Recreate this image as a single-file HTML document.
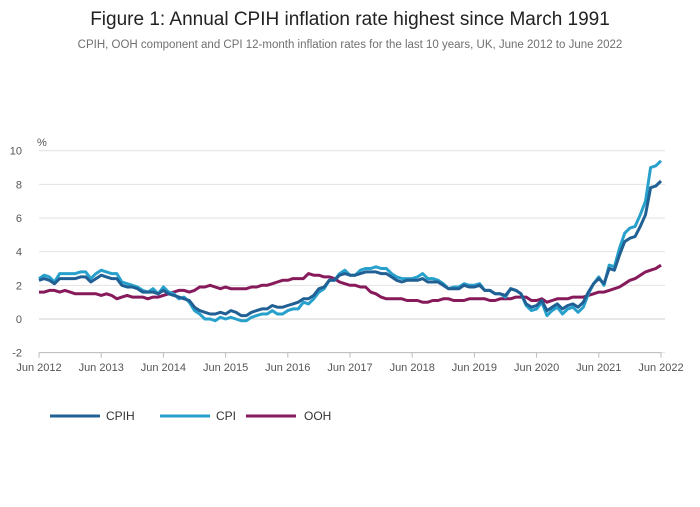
<!DOCTYPE html>
<html><head><meta charset="utf-8"><style>
body{margin:0;background:#fff;font-family:"Liberation Sans",sans-serif}
</style></head><body>
<svg width="700" height="502" xmlns="http://www.w3.org/2000/svg">
<text x="350" y="25" text-anchor="middle" font-size="19" fill="#222">Figure 1: Annual CPIH inflation rate highest since March 1991</text>
<text x="350" y="48" text-anchor="middle" font-size="11.5" fill="#707070">CPIH, OOH component and CPI 12-month inflation rates for the last 10 years, UK, June 2012 to June 2022</text>
<g id="grid"></g><g id="axes"></g><g id="series"></g>
<g font-size="12" fill="#333">
<line x1="50" y1="416" x2="100" y2="416" stroke="#206095" stroke-width="3"/>
<text x="106" y="420">CPIH</text>
<line x1="160" y1="416" x2="210" y2="416" stroke="#27a0cc" stroke-width="3"/>
<text x="216" y="420">CPI</text>
<line x1="246" y1="416" x2="296" y2="416" stroke="#871a5b" stroke-width="3"/>
<text x="304" y="420">OOH</text>
</g>
</svg>
<script>
const xLabels=["Jun 2012","Jun 2013","Jun 2014","Jun 2015","Jun 2016","Jun 2017","Jun 2018","Jun 2019","Jun 2020","Jun 2021","Jun 2022"];
const yTicks=[-2,0,2,4,6,8,10];
const cpih=[2.3,2.4,2.3,2.1,2.4,2.4,2.4,2.4,2.5,2.5,2.2,2.4,2.6,2.5,2.4,2.4,2.0,1.9,1.9,1.8,1.6,1.6,1.6,1.5,1.7,1.5,1.4,1.3,1.2,1.1,0.7,0.5,0.4,0.3,0.3,0.4,0.3,0.5,0.4,0.2,0.2,0.4,0.5,0.6,0.6,0.8,0.7,0.7,0.8,0.9,1.0,1.2,1.2,1.4,1.8,1.9,2.3,2.3,2.6,2.7,2.6,2.6,2.7,2.8,2.8,2.8,2.7,2.7,2.5,2.3,2.2,2.3,2.3,2.3,2.4,2.2,2.2,2.2,2.0,1.8,1.8,1.8,2.0,1.9,1.9,2.0,1.7,1.7,1.5,1.5,1.4,1.8,1.7,1.5,0.9,0.7,0.8,1.1,0.5,0.7,0.9,0.6,0.8,0.9,0.7,1.0,1.6,2.1,2.4,2.1,3.0,2.9,3.8,4.6,4.8,4.9,5.5,6.2,7.8,7.9,8.2];
const cpi=[2.4,2.6,2.5,2.2,2.7,2.7,2.7,2.7,2.8,2.8,2.4,2.7,2.9,2.8,2.7,2.7,2.2,2.1,2.0,1.9,1.7,1.6,1.8,1.5,1.9,1.6,1.5,1.2,1.3,1.0,0.5,0.3,0.0,0.0,-0.1,0.1,0.0,0.1,0.0,-0.1,-0.1,0.1,0.2,0.3,0.3,0.5,0.3,0.3,0.5,0.6,0.6,1.0,0.9,1.2,1.6,1.8,2.3,2.3,2.7,2.9,2.6,2.6,2.9,3.0,3.0,3.1,3.0,3.0,2.7,2.5,2.4,2.4,2.4,2.5,2.7,2.4,2.4,2.3,2.1,1.8,1.9,1.9,2.1,2.0,2.0,2.1,1.7,1.7,1.5,1.5,1.3,1.8,1.7,1.5,0.8,0.5,0.6,1.0,0.2,0.5,0.7,0.3,0.6,0.7,0.4,0.7,1.5,2.1,2.5,2.0,3.2,3.1,4.2,5.1,5.4,5.5,6.2,7.0,9.0,9.1,9.4];
const ooh=[1.6,1.6,1.7,1.7,1.6,1.7,1.6,1.5,1.5,1.5,1.5,1.5,1.4,1.5,1.4,1.2,1.3,1.4,1.3,1.3,1.3,1.2,1.3,1.3,1.4,1.5,1.6,1.7,1.7,1.6,1.7,1.9,1.9,2.0,1.9,1.8,1.9,1.8,1.8,1.8,1.8,1.9,1.9,2.0,2.0,2.1,2.2,2.3,2.3,2.4,2.4,2.4,2.7,2.6,2.6,2.5,2.5,2.4,2.2,2.1,2.0,2.0,1.9,1.9,1.6,1.5,1.3,1.2,1.2,1.2,1.2,1.1,1.1,1.1,1.0,1.0,1.1,1.1,1.2,1.2,1.1,1.1,1.1,1.2,1.2,1.2,1.2,1.1,1.1,1.2,1.2,1.2,1.3,1.3,1.3,1.1,1.1,1.2,1.0,1.1,1.2,1.2,1.2,1.3,1.3,1.3,1.4,1.5,1.6,1.6,1.7,1.8,1.9,2.1,2.3,2.4,2.6,2.8,2.9,3.0,3.2];
const NS="http://www.w3.org/2000/svg";
const X0=39,X1=661,n=cpih.length;
function xs(i){return X0+(X1-X0)*i/(n-1);}
function ys(v){return 319-v*16.83;}
function mk(t,a,p){const e=document.createElementNS(NS,t);for(const k in a)e.setAttribute(k,a[k]);p.appendChild(e);return e;}
const grid=document.getElementById('grid'),axes=document.getElementById('axes'),ser=document.getElementById('series');
yTicks.forEach(v=>{
 const l=mk('line',{x1:X0,x2:665,y1:ys(v),y2:ys(v),stroke:v===0?'#d0d0d0':'#e2e2e2','stroke-width':1},grid);
 
 
 const t=mk('text',{x:22,y:ys(v)+4,'text-anchor':'end','font-size':11,fill:'#555'},axes);
 t.textContent=v;
 
 
});
const pc=mk('text',{x:37,y:146,'font-size':11,fill:'#555'},axes);pc.textContent='%';


mk('line',{x1:X0,x2:X1,y1:ys(-2),y2:ys(-2),stroke:'#bbb'},axes);
xLabels.forEach((s,k)=>{
 const x=xs(k*12);
 mk('line',{x1:x,x2:x,y1:ys(-2),y2:ys(-2)+5,stroke:'#bbb'},axes);
 const t=mk('text',{x:x,y:371,'text-anchor':'middle','font-size':11,fill:'#555'},axes);
 t.textContent=s;
 
 
});
[[ooh,'#871a5b','line-ooh'],[cpi,'#27a0cc','line-cpi'],[cpih,'#206095','line-cpih']].forEach(([d,c,nm])=>{
 const p=mk('polyline',{points:d.map((v,i)=>xs(i).toFixed(1)+','+ys(v).toFixed(1)).join(' '),fill:'none',stroke:c,'stroke-width':3,'stroke-linejoin':'round'},ser);
 
 
});
</script>
</body></html>
